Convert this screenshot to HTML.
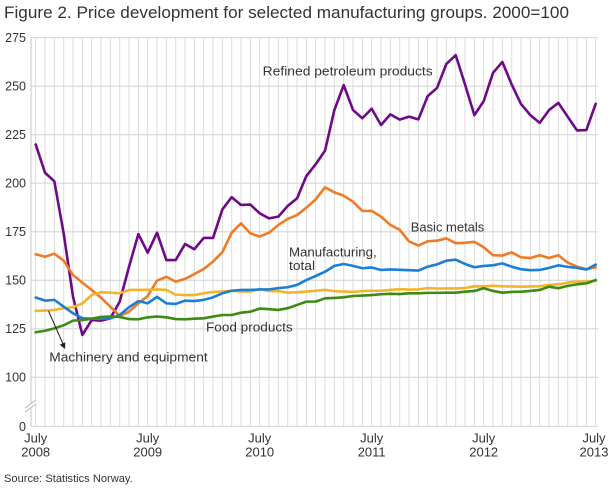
<!DOCTYPE html>
<html>
<head>
<meta charset="utf-8">
<style>
  html, body { margin: 0; padding: 0; background: #ffffff; }
  svg { display: block; }
  text { font-family: "Liberation Sans", "DejaVu Sans", sans-serif; fill: #333333; }
</style>
</head>
<body>
<svg width="610" height="488" viewBox="0 0 610 488" xmlns="http://www.w3.org/2000/svg">
  <rect x="0" y="0" width="610" height="488" fill="#ffffff"/>

  <!-- Title -->
  <text x="4" y="18" font-size="16.5" textLength="565" lengthAdjust="spacingAndGlyphs">Figure 2. Price development for selected manufacturing groups. 2000=100</text>

  <!-- vertical monthly gridlines -->
  <path transform="matrix(9.33333 0 0 1 35.7 0)" vector-effect="non-scaling-stroke" stroke="#dcdcdc" stroke-width="1" fill="none"
    d="M0 37.7V426.3M1 37.7V426.3M2 37.7V426.3M3 37.7V426.3M4 37.7V426.3M5 37.7V426.3M6 37.7V426.3M7 37.7V426.3M8 37.7V426.3M9 37.7V426.3M10 37.7V426.3M11 37.7V426.3M12 37.7V426.3M13 37.7V426.3M14 37.7V426.3M15 37.7V426.3M16 37.7V426.3M17 37.7V426.3M18 37.7V426.3M19 37.7V426.3M20 37.7V426.3M21 37.7V426.3M22 37.7V426.3M23 37.7V426.3M24 37.7V426.3M25 37.7V426.3M26 37.7V426.3M27 37.7V426.3M28 37.7V426.3M29 37.7V426.3M30 37.7V426.3M31 37.7V426.3M32 37.7V426.3M33 37.7V426.3M34 37.7V426.3M35 37.7V426.3M36 37.7V426.3M37 37.7V426.3M38 37.7V426.3M39 37.7V426.3M40 37.7V426.3M41 37.7V426.3M42 37.7V426.3M43 37.7V426.3M44 37.7V426.3M45 37.7V426.3M46 37.7V426.3M47 37.7V426.3M48 37.7V426.3M49 37.7V426.3M50 37.7V426.3M51 37.7V426.3M52 37.7V426.3M53 37.7V426.3M54 37.7V426.3M55 37.7V426.3M56 37.7V426.3M57 37.7V426.3M58 37.7V426.3M59 37.7V426.3M60 37.7V426.3"/>

  <!-- horizontal gridlines -->
  <g stroke="#d6d6d6" stroke-width="1.2">
    <line x1="31" y1="37.7" x2="598" y2="37.7"/>
    <line x1="31" y1="86.2" x2="598" y2="86.2"/>
    <line x1="31" y1="134.7" x2="598" y2="134.7"/>
    <line x1="31" y1="183.2" x2="598" y2="183.2"/>
    <line x1="31" y1="231.8" x2="598" y2="231.8"/>
    <line x1="31" y1="280.3" x2="598" y2="280.3"/>
    <line x1="31" y1="328.8" x2="598" y2="328.8"/>
    <line x1="31" y1="377.3" x2="598" y2="377.3"/>
    <line x1="31" y1="426.3" x2="598" y2="426.3"/>
  </g>
  <!-- y axis line -->
  <line x1="31" y1="37.7" x2="31" y2="426.3" stroke="#cfcfcf" stroke-width="1.2"/>

  <!-- axis break -->
  <polygon points="24,409 37,399 37,404 24,414" fill="#ffffff"/>
  <line x1="25" y1="408" x2="36" y2="400" stroke="#bdbdbd" stroke-width="1.1"/>
  <line x1="25" y1="412" x2="36" y2="404" stroke="#bdbdbd" stroke-width="1.1"/>

  <!-- y labels -->
  <g font-size="12.5" text-anchor="end">
    <text x="26" y="42">275</text>
    <text x="26" y="90.5">250</text>
    <text x="26" y="139">225</text>
    <text x="26" y="187.5">200</text>
    <text x="26" y="236">175</text>
    <text x="26" y="284.5">150</text>
    <text x="26" y="333">125</text>
    <text x="26" y="381.5">100</text>
    <text x="26" y="431">0</text>
  </g>

  <!-- x labels -->
  <g font-size="13" text-anchor="middle">
    <text x="35.7" y="442.7">July</text><text x="35.7" y="456.7">2008</text>
    <text x="147.7" y="442.7">July</text><text x="147.7" y="456.7">2009</text>
    <text x="259.7" y="442.7">July</text><text x="259.7" y="456.7">2010</text>
    <text x="371.7" y="442.7">July</text><text x="371.7" y="456.7">2011</text>
    <text x="483.7" y="442.7">July</text><text x="483.7" y="456.7">2012</text>
    <text x="594" y="442.7">July</text><text x="594" y="456.7">2013</text>
  </g>

  <!-- series -->
  <g transform="matrix(9.33333 0 0 -1.9406 35.7 571.36)" fill="none" stroke-width="2.6" stroke-linejoin="round" stroke-linecap="round">
    <!-- Refined petroleum products -->
    <polyline vector-effect="non-scaling-stroke" stroke="#6e0a88"
      points="0,220 1,205.4 2,201 3,174 4,141.5 5,121.8 6,129.5 7,129.2 8,130.4 9,139 10,157 11,173.8 12,164.2 13,174.5 14,160.4 15,160.4 16,168.7 17,166 18,171.8 19,171.8 20,186.5 21,192.8 22,188.8 23,189 24,184.5 25,181.9 26,182.8 27,188.3 28,192.2 29,203.7 30,209.8 31,216.8 32,237.7 33,250.6 34,237.7 35,233.5 36,238.4 37,230 38,235.5 39,232.8 40,234.3 41,232.9 42,244.9 43,249.1 44,261.5 45,266 46,250.9 47,235.1 48,242.3 49,256.9 50,262.5 51,250.9 52,240.8 53,235.1 54,231.1 55,237.7 56,241.4 57,234.3 58,227.2 59,227.4 60,240.9"/>
    <!-- Basic metals -->
    <polyline vector-effect="non-scaling-stroke" stroke="#ef7b26"
      points="0,163.4 1,162.1 2,163.7 3,160.1 4,152.7 5,148.8 6,145 7,141 8,136.4 9,131.6 10,133.8 11,138.1 12,141.9 13,149.8 14,151.8 15,149.3 16,150.7 17,153.2 18,155.8 19,159.6 20,164.5 21,174.5 22,179.3 23,174.2 24,172.5 25,174.5 26,178.5 27,181.6 28,183.6 29,187.4 30,191.7 31,197.9 32,195.3 33,193.6 34,190.5 35,185.7 36,185.8 37,182.8 38,178.5 39,176 40,170 41,167.9 42,170.1 43,170.4 44,171.6 45,169.1 46,169.3 47,169.8 48,167 49,162.9 50,162.7 51,164.4 52,161.8 53,161.5 54,162.9 55,161.5 56,162.9 57,159.1 58,157 59,155.7 60,156.7"/>
    <!-- Machinery and equipment -->
    <polyline vector-effect="non-scaling-stroke" stroke="#f3b42a"
      points="0,134.2 1,134.4 2,134.7 3,135.6 4,136.1 5,138.1 6,142.4 7,143.8 8,143.6 9,143.3 10,145 11,145 12,145.1 13,145.3 14,145 15,142.6 16,142.4 17,142.4 18,143.3 19,144 20,144.2 21,144.6 22,144.2 23,144.2 24,145.5 25,144.4 26,144.4 27,143.6 28,143.8 29,144.2 30,144.6 31,145 32,144.4 33,144.2 34,144 35,144.4 36,144.6 37,144.6 38,145 39,145.4 40,145.2 41,145.3 42,146 43,145.7 44,145.8 45,145.8 46,146 47,146.9 48,146.8 49,147.2 50,146.9 51,146.8 52,146.7 53,146.8 54,146.9 55,147.6 56,147.9 57,148.8 58,149.3 59,149.3 60,149.8"/>
    <!-- Manufacturing, total -->
    <polyline vector-effect="non-scaling-stroke" stroke="#1b7fd6"
      points="0,141.1 1,139.5 2,139.9 3,136.4 4,133 5,130.4 6,130.2 7,130.2 8,130.4 9,132.1 10,136.1 11,139.3 12,138.1 13,141.5 14,138.1 15,137.8 16,139.5 17,139.3 18,139.9 19,141.2 20,143.3 21,144.6 22,145 23,145 24,145.3 25,145.3 26,145.9 27,146.4 28,147.6 29,150.1 30,152.2 31,154.4 32,157.4 33,158.4 34,157.4 35,156.2 36,156.6 37,155.3 38,155.6 39,155.4 40,155.2 41,155 42,157 43,158.2 44,160.1 45,160.6 46,158.4 47,156.7 48,157.4 49,157.7 50,158.7 51,157 52,155.7 53,155.2 54,155.3 55,156.4 56,157.7 57,156.9 58,156.4 59,155.5 60,158.1"/>
    <!-- Food products -->
    <polyline vector-effect="non-scaling-stroke" stroke="#3e8a13"
      points="0,123.2 1,124 2,125.2 3,126.8 4,129.2 5,129.5 6,130.2 7,131.1 8,131.3 9,131.1 10,130 11,129.9 12,130.9 13,131.3 14,130.9 15,130 16,129.9 17,130.2 18,130.4 19,131.3 20,132.1 21,132.1 22,133.3 23,133.8 24,135.4 25,135.1 26,134.7 27,135.6 28,137.3 29,139 30,139 31,140.7 32,140.9 33,141.2 34,141.9 35,142.1 36,142.4 37,142.8 38,143 39,142.9 40,143.3 41,143.3 42,143.5 43,143.5 44,143.6 45,143.6 46,144.1 47,144.5 48,145.9 49,144.5 50,143.6 51,144 52,144.1 53,144.5 54,145 55,146.7 56,145.9 57,147.1 58,147.9 59,148.4 60,150.1"/>
  </g>

  <!-- series labels -->
  <g font-size="13">
    <text x="262.7" y="75.7" textLength="170" lengthAdjust="spacingAndGlyphs">Refined petroleum products</text>
    <text x="410.7" y="231.7" textLength="73.6" lengthAdjust="spacingAndGlyphs">Basic metals</text>
    <text x="289" y="256.7" textLength="87.7" lengthAdjust="spacingAndGlyphs">Manufacturing,</text>
    <text x="289" y="270" textLength="26" lengthAdjust="spacingAndGlyphs">total</text>
    <text x="206" y="331.7" textLength="86.7" lengthAdjust="spacingAndGlyphs">Food products</text>
    <text x="49.3" y="361.7" textLength="158.4" lengthAdjust="spacingAndGlyphs">Machinery and equipment</text>
  </g>

  <!-- arrow -->
  <line x1="48.5" y1="311" x2="63.5" y2="345" stroke="#222222" stroke-width="1"/>
  <polygon points="65,349 65.3,342.3 59.8,344.7" fill="#222222"/>

  <!-- source -->
  <text x="4" y="482" font-size="11" textLength="128.7" lengthAdjust="spacingAndGlyphs">Source: Statistics Norway.</text>
</svg>
</body>
</html>
